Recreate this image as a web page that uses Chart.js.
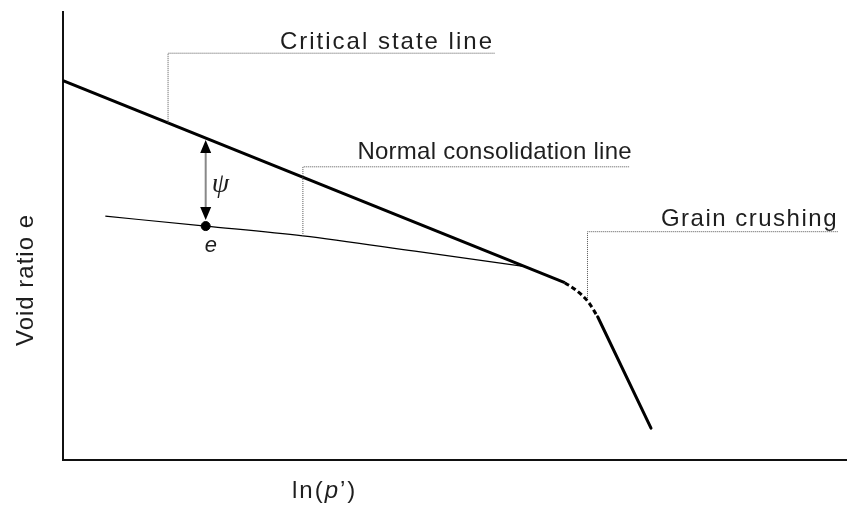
<!DOCTYPE html>
<html><head><meta charset="utf-8">
<script src="https://cdn.jsdelivr.net/npm/chart.js@4/dist/chart.umd.min.js"></script>
<style>html,body{margin:0;padding:0;background:#fff}canvas{display:block}</style>
</head><body>
<canvas id="c" width="853" height="509"></canvas>
<script>
// Schematic e – ln(p') diagram, arbitrary units on both axes (0–100)
const criticalStateLine = [[0, 84.5], [64, 39.5]];
const normalConsolidationLine = [[5.4, 54.3], [18.2, 52.1], [30.6, 49.9], [44.9, 46.5], [59.2, 43.0]];
const transitionCurve = [[64, 39.5], [65.6, 37.6], [67.0, 35.2], [68.2, 31.9]];
const grainCrushingLine = [[68.2, 31.9], [75.0, 7.1]];
const currentState = [[18.2, 52.1]];            // current void ratio e
const psiFrom = [18.2, 71.7];                     // CSL directly above the state point
const leaderCritical = [[13.4, 75.1], [13.4, 90.6], [55.1, 90.6]];
const leaderNormal = [[30.6, 49.9], [30.6, 65.3], [72.3, 65.3]];
const leaderGrain = [[66.9, 36.1], [66.9, 50.85], [98.85, 50.85]];
const calloutTexts = ['Critical state line', 'Normal consolidation line', 'Grain crushing'];

const pts = a => a.map(([x, y]) => ({x, y}));
const FONT = '"Liberation Sans", Arial, Helvetica, sans-serif';
const INK = '#1e1e1e';

const leaderStyle = {borderColor: '#555', borderWidth: 1, borderDash: [1, 1], pointRadius: 0, showLine: true, tension: 0};

const datasets = [
  {data: pts(leaderCritical), ...leaderStyle},
  {data: pts(leaderNormal), ...leaderStyle},
  {data: pts(leaderGrain), ...leaderStyle},
  {data: pts(normalConsolidationLine), borderColor: '#000', borderWidth: 1.2, pointRadius: 0, showLine: true, cubicInterpolationMode: 'monotone'},
  {data: pts(criticalStateLine), borderColor: '#000', borderWidth: 3, pointRadius: 0, showLine: true},
  {data: pts(transitionCurve), borderColor: '#000', borderWidth: 3, borderDash: [5, 3], pointRadius: 0, showLine: true, cubicInterpolationMode: 'monotone'},
  {data: pts(grainCrushingLine), borderColor: '#000', borderWidth: 3, borderCapStyle: 'round', pointRadius: 0, showLine: true},
  {data: pts(currentState), pointRadius: 4.5, pointBackgroundColor: '#000', pointBorderColor: '#000', showLine: false}
];

// callout label placement: which leader it sits on, extra shifts in px
const callouts = [
  {leader: leaderCritical, dx: -1, dy: -4, spacing: 2},
  {leader: leaderNormal, dx: 2, dy: -8, spacing: 0.25},
  {leader: leaderGrain, dx: 0, dy: -6, spacing: 1.5}
];

const decor = {
  id: 'decor',
  beforeDatasetsDraw(chart) {
    const {ctx, chartArea: a} = chart;
    ctx.save();
    ctx.strokeStyle = '#111';
    ctx.lineWidth = 2;
    ctx.beginPath();
    ctx.moveTo(a.left, a.top);
    ctx.lineTo(a.left, a.bottom);
    ctx.lineTo(a.right, a.bottom);
    ctx.stroke();
    ctx.restore();
  },
  afterDatasetsDraw(chart) {
    const {ctx} = chart;
    const X = chart.scales.x, Y = chart.scales.y;
    ctx.save();
    ctx.fillStyle = INK;

    // callout texts
    ctx.font = '24px ' + FONT;
    ctx.textBaseline = 'alphabetic';
    ctx.textAlign = 'right';
    callouts.forEach((c, i) => {
      const end = c.leader[c.leader.length - 1];
      ctx.letterSpacing = c.spacing + 'px';
      ctx.fillText(calloutTexts[i], X.getPixelForValue(end[0]) + c.dx, Y.getPixelForValue(end[1]) + c.dy);
    });
    ctx.letterSpacing = '0px';

    // psi arrow between the state point and the CSL
    const ax = X.getPixelForValue(psiFrom[0]);
    const yTop = Y.getPixelForValue(psiFrom[1]) + 2;
    const yBot = Y.getPixelForValue(currentState[0][1]) - 6;
    const hl = 13, hw = 5.5;
    ctx.strokeStyle = '#888';
    ctx.lineWidth = 2;
    ctx.beginPath();
    ctx.moveTo(ax, yTop + hl - 1);
    ctx.lineTo(ax, yBot - hl + 1);
    ctx.stroke();
    ctx.fillStyle = '#000';
    ctx.beginPath();
    ctx.moveTo(ax, yTop); ctx.lineTo(ax - hw, yTop + hl); ctx.lineTo(ax + hw, yTop + hl); ctx.closePath();
    ctx.moveTo(ax, yBot); ctx.lineTo(ax - hw, yBot - hl); ctx.lineTo(ax + hw, yBot - hl); ctx.closePath();
    ctx.fill();

    ctx.fillStyle = INK;
    ctx.textAlign = 'left';
    ctx.font = 'italic 28px "Liberation Serif", "DejaVu Serif", serif';
    ctx.fillText('\u03C8', ax + 6, (yTop + yBot) / 2 + 12);

    ctx.font = 'italic 22px ' + FONT;
    ctx.fillText('e', ax - 1, Y.getPixelForValue(currentState[0][1]) + 26);

    // axis titles
    ctx.font = '24px ' + FONT;
    ctx.letterSpacing = '1px';
    ctx.save();
    ctx.translate(33, 280);
    ctx.rotate(-Math.PI / 2);
    ctx.textAlign = 'center';
    ctx.fillText('Void ratio e', 0, 0);
    ctx.restore();

    ctx.letterSpacing = '2px';
    let tx = 292;
    const ty = 498;
    const parts = [['ln(', '24px ' + FONT], ['p', 'italic 24px ' + FONT], ['\u2019)', '24px ' + FONT]];
    ctx.textAlign = 'left';
    parts.forEach(([t, f]) => { ctx.font = f; ctx.fillText(t, tx, ty); tx += ctx.measureText(t).width; });
    ctx.letterSpacing = '0px';
    ctx.restore();
  }
};

new Chart(document.getElementById('c'), {
  type: 'scatter',
  data: {datasets},
  options: {
    responsive: false,
    animation: false,
    layout: {padding: {left: 63, top: 11, right: 6, bottom: 49}},
    scales: {
      x: {type: 'linear', min: 0, max: 100, display: false},
      y: {type: 'linear', min: 0, max: 100, display: false}
    },
    plugins: {legend: {display: false}, tooltip: {enabled: false}}
  },
  plugins: [decor]
});
</script>
</body></html>
